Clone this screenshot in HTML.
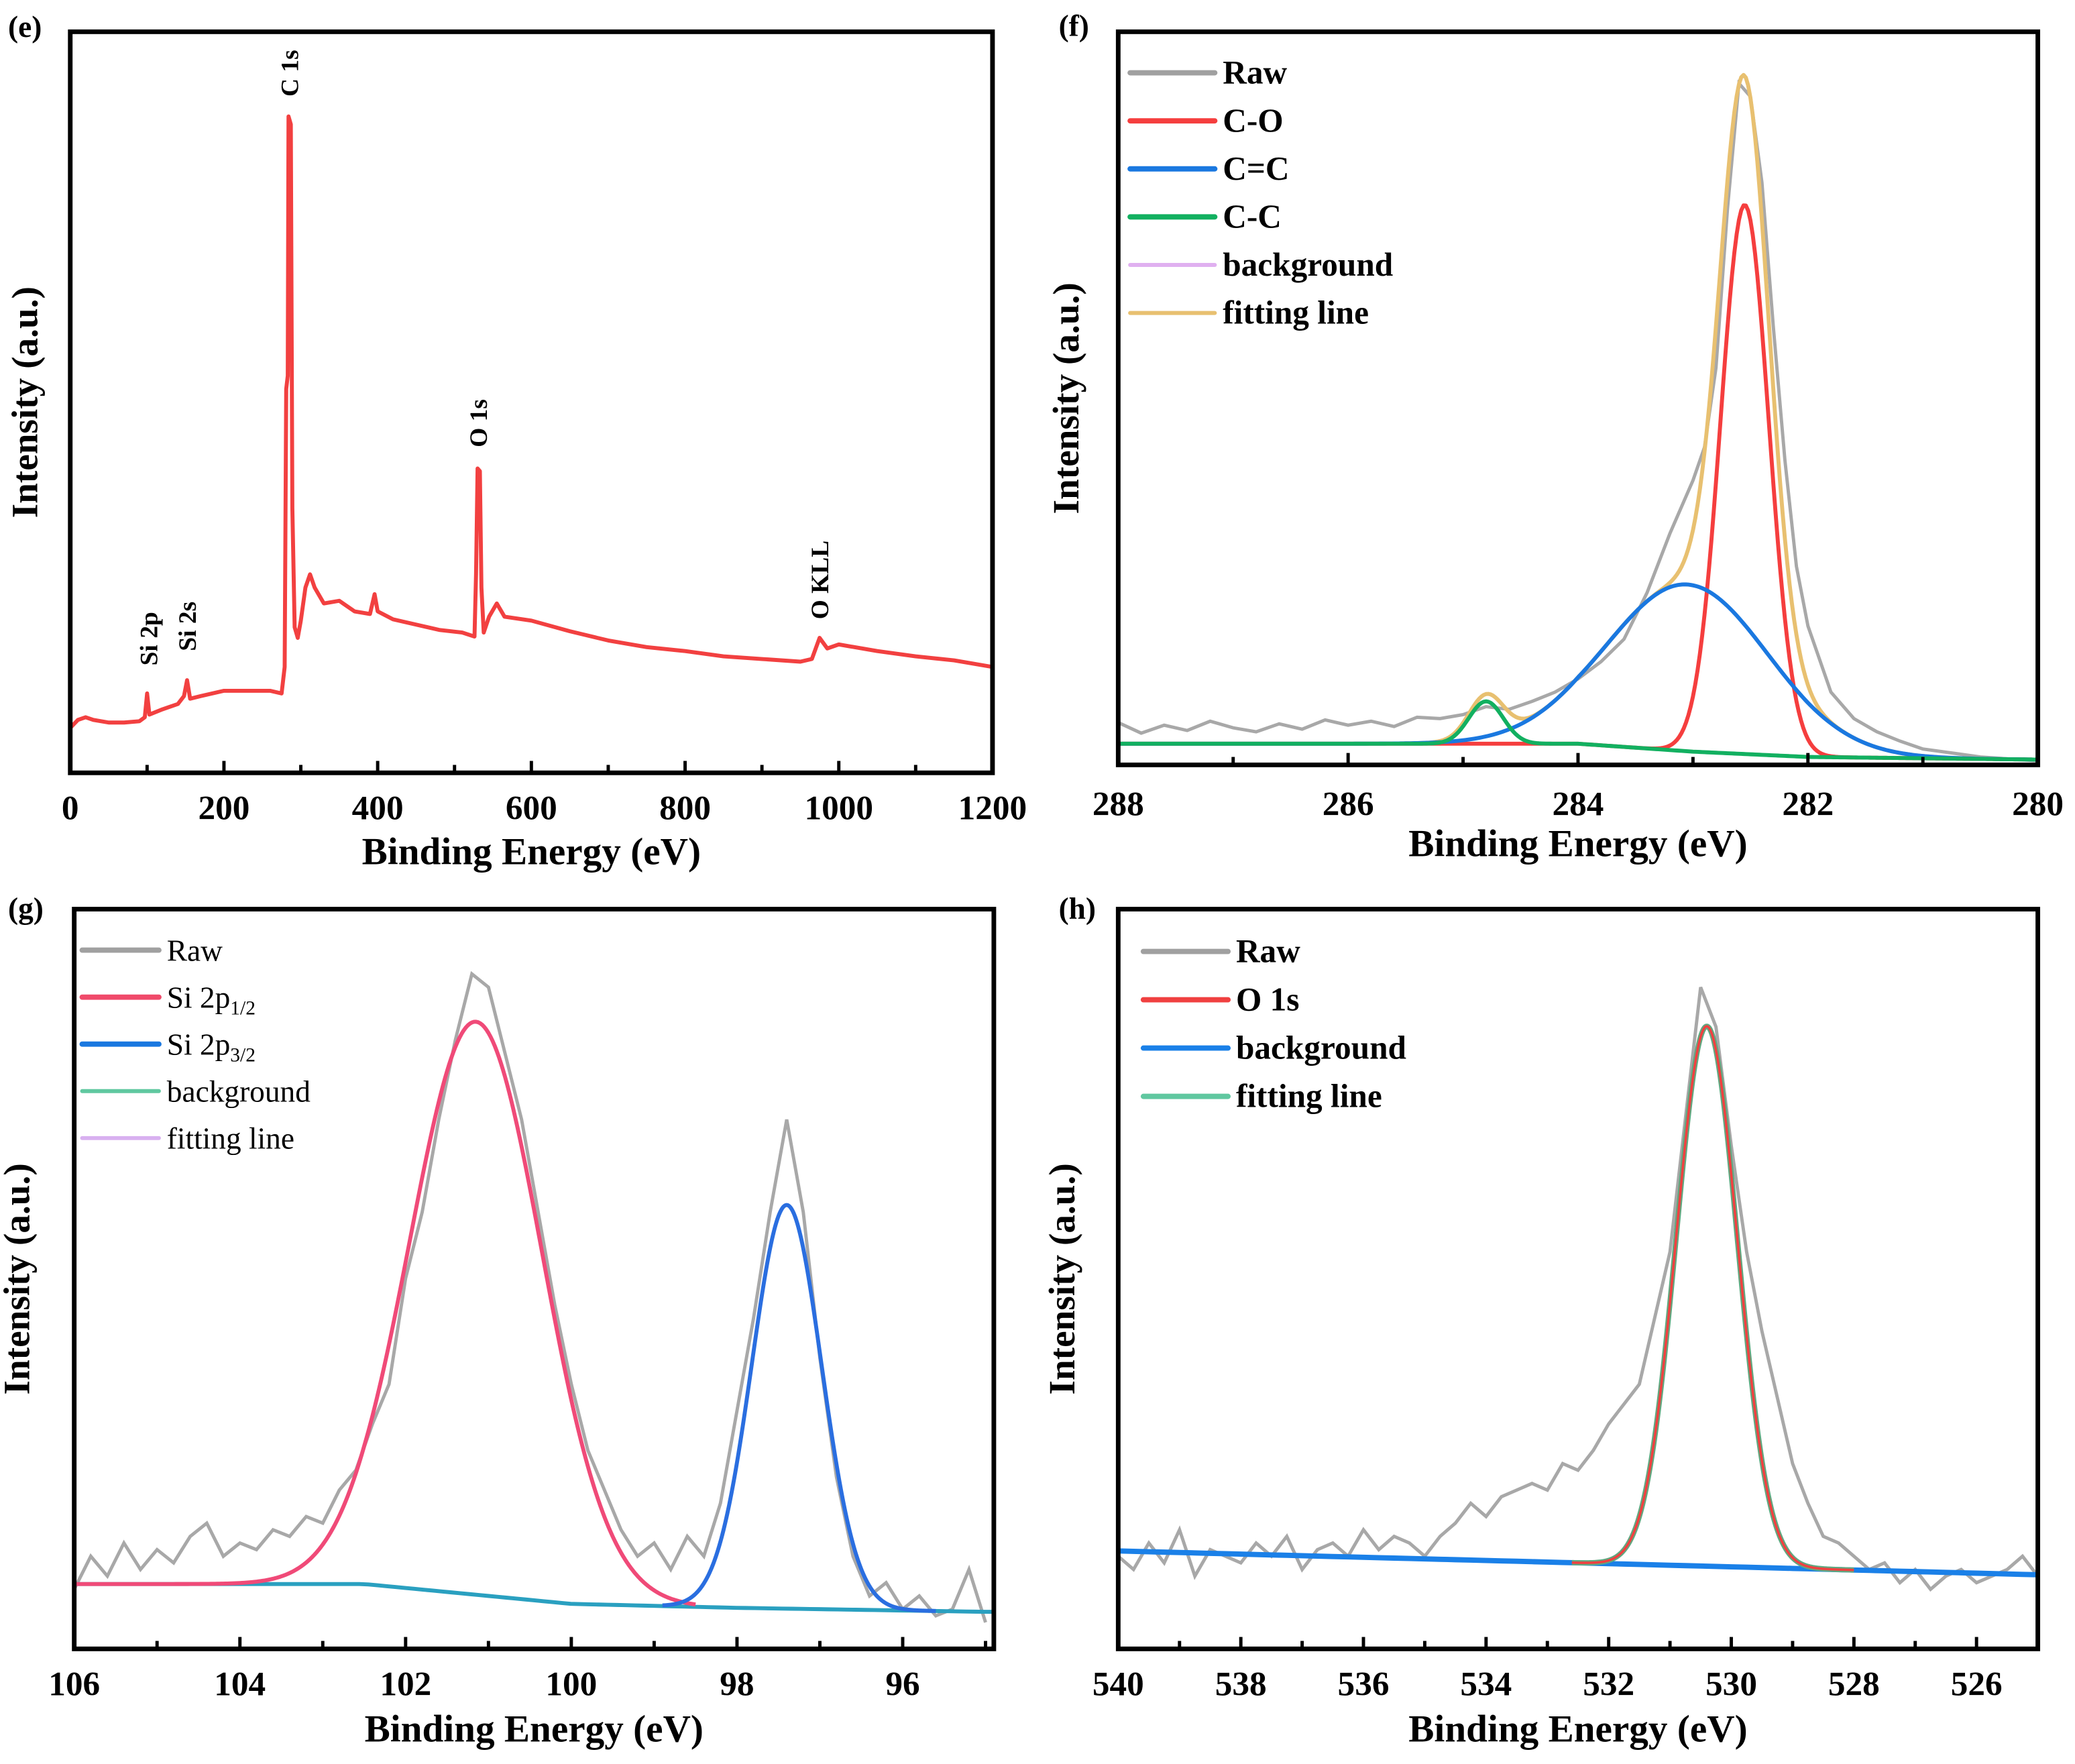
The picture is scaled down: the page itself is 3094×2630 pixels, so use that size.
<!DOCTYPE html>
<html><head><meta charset="utf-8"><style>
html,body{margin:0;padding:0;background:#fff}
svg{display:block}
text{font-family:"Liberation Serif",serif;fill:#000}
</style></head><body>
<svg id="fig" width="3094" height="2630" viewBox="0 0 1568 1333" xmlns="http://www.w3.org/2000/svg"></svg>
<script>
// ---------- Panel (e) survey ----------
const eX = [0,10,20,30,50,70,90,97,100,103,120,140,148,152,156,170,200,230,260,275,279,281,283,284,287,289,292,296,300,306,312,318,330,350,370,390,396,400,420,450,480,510,526,528,530,533,535,538,545,555,565,600,650,700,750,800,850,900,950,965,975,985,1000,1050,1100,1150,1200];
const eY = [34,40,42,40,38,38,39,42,60,44,48,52,58,70,56,58,62,62,62,60,80,290,300,496,490,200,110,102,115,140,150,140,128,130,122,120,135,122,116,112,108,106,103,150,230,228,140,106,118,128,118,115,107,100,95,92,88,86,84,86,102,94,97,92,88,85,80];
const eTicks = [0,200,400,600,800,1000,1200];
const eAnnotLabels = ["Si 2p","Si 2s","C 1s","O 1s","O KLL"];
const eAnnotX = [103,153,286,532,976];
const eAnnotY = [75,86,505,240,110];

// ---------- Panel (f) C 1s ----------
const fRawX = [288,287.8,287.6,287.4,287.2,287,286.8,286.6,286.4,286.2,286,285.8,285.6,285.4,285.2,285,284.8,284.6,284.4,284.2,284,283.8,283.6,283.4,283.2,283,282.9,282.8,282.7,282.6,282.5,282.4,282.3,282.2,282.1,282,281.8,281.6,281.4,281.2,281,280.5,280];
const fRawY = [32,24,30,26,33,28,25,31,27,34,30,33,29,36,35,38,44,42,48,55,65,78,95,130,175,215,240,300,420,515,505,440,330,230,150,105,55,35,25,18,12,6,3];
const fBgX = [288,284,283,282,280];
const fBgY = [16,16,10,6,4];
const fPeakNames = ["C-O","C=C","C-C"];
const fPeakCenter = [282.55,283.05,284.8];
const fPeakHeight = [415,126,32];
const fPeakSigma = [0.21,0.7,0.15];
const fTicks = [288,286,284,282,280];

// ---------- Panel (g) Si 2p ----------
const gRawX = [106,105.8,105.6,105.4,105.2,105,104.8,104.6,104.4,104.2,104,103.8,103.6,103.4,103.2,103,102.8,102.6,102.4,102.2,102,101.8,101.6,101.4,101.2,101,100.8,100.6,100.4,100.2,100,99.8,99.6,99.4,99.2,99,98.8,98.6,98.4,98.2,98,97.8,97.6,97.4,97.2,97,96.8,96.6,96.4,96.2,96,95.8,95.6,95.4,95.2,95];
const gRawY = [45,70,55,80,60,75,65,85,95,70,80,75,90,85,100,95,120,135,170,200,280,330,400,460,510,500,450,400,330,260,200,150,120,90,70,80,60,85,70,110,180,250,330,400,330,220,130,70,40,50,30,40,25,30,60,20];
const gBgX = [106,102.5,101,100,98,95];
const gBgY = [49,49,40,34,31,28];
const gPeakNames = ["Si 2p1/2","Si 2p3/2"];
const gPeakCenter = [101.15,97.4];
const gPeakHeight = [433,305];
const gPeakSigma = [0.8,0.42];
const gTicks = [106,104,102,100,98,96];

// ---------- Panel (h) O 1s ----------
const hRawX = [540,539.75,539.5,539.25,539,538.75,538.5,538.25,538,537.75,537.5,537.25,537,536.75,536.5,536.25,536,535.75,535.5,535.25,535,534.75,534.5,534.25,534,533.75,533.5,533.25,533,532.75,532.5,532.25,532,531.75,531.5,531.25,531,530.75,530.5,530.25,530,529.75,529.5,529.25,529,528.75,528.5,528.25,528,527.75,527.5,527.25,527,526.75,526.5,526.25,526,525.75,525.5,525.25,525];
const hRawY = [70,60,80,65,90,55,75,70,65,80,70,85,60,75,80,70,90,75,85,80,70,85,95,110,100,115,120,125,120,140,135,150,170,185,200,250,300,400,500,470,380,300,240,190,140,110,85,80,70,60,65,50,60,45,55,60,50,55,60,70,55];
const hBgX = [540,525];
const hBgY = [74,56];
const hPeakNames = ["O 1s"];
const hPeakCenter = [530.4];
const hPeakHeight = [408];
const hPeakSigma = [0.5];
const hTicks = [540,538,536,534,532,530,528,526];

const NS = "http://www.w3.org/2000/svg";
const svg = document.getElementById('fig');
function mk(tag, attrs, parent){const el=document.createElementNS(NS,tag);for(const k in attrs)el.setAttribute(k,attrs[k]);(parent||svg).appendChild(el);return el;}
function interp(xs, ys, x){
  for(let i=0;i<xs.length-1;i++){
    const a=xs[i],b=xs[i+1];
    if((x>=Math.min(a,b))&&(x<=Math.max(a,b))){const t=(x-a)/(b-a||1);return ys[i]+t*(ys[i+1]-ys[i]);}
  }
  return Math.abs(x-xs[0])<Math.abs(x-xs[xs.length-1])?ys[0]:ys[ys.length-1];
}
function makeAxes(box, x0, x1, ymax){
  const sx = v => box.l + (v - x0)/(x1 - x0)*(box.r - box.l);
  const sy = v => box.b - v/ymax*(box.b - box.t);
  return {sx, sy};
}
function pathFrom(xs, ys, ax){
  let d='';for(let i=0;i<xs.length;i++){d+=(i?'L':'M')+ax.sx(xs[i]).toFixed(2)+','+ax.sy(ys[i]).toFixed(2);}return d;
}
function frame(g, box, ticks, minorStep, ax, tickY, xTitleY, yTitleX, label, labelX, labelY){
  const r = mk('rect',{x:box.l,y:box.t,width:box.r-box.l,height:box.b-box.t,fill:'none',stroke:'#000','stroke-width':3.5},g);
  
  
  const [dmin,dmax]=[Math.min(ax.x0,ax.x1),Math.max(ax.x0,ax.x1)];
  for(let v=Math.ceil(dmin/minorStep)*minorStep; v<=dmax+1e-9; v+=minorStep){
    const x=ax.sx(v); if(x<box.l+2||x>box.r-2) continue;
    const major = ticks.some(t=>Math.abs(t-v)<1e-6);
    const tk = mk('line',{x1:x,x2:x,y1:box.b,y2:box.b-(major?9:6),stroke:'#000','stroke-width':2.5},g);
    
    
  }
  ticks.forEach(t=>{
    const tl = mk('text',{x:ax.sx(t),y:tickY,'text-anchor':'middle','font-size':26,'font-weight':'bold'},g);
    tl.textContent=t;
    
    
  });
  const xt = mk('text',{x:(box.l+box.r)/2,y:xTitleY,'text-anchor':'middle','font-size':29,'font-weight':'bold'},g);
  xt.textContent='Binding Energy (eV)';
  
  
  const cy=(box.t+box.b)/2;
  const yt = mk('text',{x:yTitleX,y:cy,'text-anchor':'middle','font-size':28,'font-weight':'bold',transform:`rotate(-90 ${yTitleX} ${cy})`},g);
  yt.textContent='Intensity (a.u.)';
  
  
  const pl = mk('text',{x:labelX,y:labelY,'font-size':23,'font-weight':'bold'},g);
  pl.textContent=label;
  
  
}
function legend(g, items, x, y0, dy, bold, fs, lineLen){
  items.forEach((it,i)=>{
    const y=y0+i*dy;
    const ln = mk('line',{x1:x,x2:x+lineLen,y1:y,y2:y,stroke:it.c,'stroke-width':it.w||4,'stroke-linecap':'round'},g);
    
    
    const t = mk('text',{x:x+lineLen+6,y:y+8,'font-size':fs,'font-weight':bold?'bold':'normal'},g);
    if(it.sub){t.textContent=it.t; const ts=mk('tspan',{'font-size':fs*0.65,dy:5},t); ts.textContent=it.sub;}
    else t.textContent=it.t;
    
    
  });
}
function gauss(x, c, h, s){return h*Math.exp(-(x-c)*(x-c)/(2*s*s));}
function curve(g, x0, x1, n, fn, ax, color, w, name){
  let d='';for(let i=0;i<=n;i++){const x=x0+(x1-x0)*i/n;d+=(i?'L':'M')+ax.sx(x).toFixed(2)+','+ax.sy(fn(x)).toFixed(2);}
  const p = mk('path',{d,fill:'none',stroke:color,'stroke-width':w,'stroke-linejoin':'round'},g);
  
  
  return p;
}

// ===== Panel e =====
{
  const g = mk('g',{});  
  const box={l:53,r:750,t:24,b:584};
  const ax = makeAxes(box,0,1200,560); ax.x0=0; ax.x1=1200;
  const p = mk('path',{d:pathFrom(eX,eY,ax),fill:'none',stroke:'#f24040','stroke-width':3,'stroke-linejoin':'round'},g);
  
  
  eAnnotLabels.forEach((s,i)=>{
    const x=ax.sx(eAnnotX[i])+6, y=ax.sy(eAnnotY[i])-6;
    const t=mk('text',{x,y,'font-size':19,'font-weight':'bold',transform:`rotate(-90 ${x} ${y})`},g);
    t.textContent=s;
    
    
  });
  frame(g,box,eTicks,100,ax,619,653,28,'(e)',6,28);
}
// ===== Panel f =====
{
  const g = mk('g',{});  
  const box={l:845,r:1540,t:24,b:578};
  const ax = makeAxes(box,288,280,554); ax.x0=288; ax.x1=280;
  const bg = x=>interp(fBgX,fBgY,x);
  const raw = mk('path',{d:pathFrom(fRawX,fRawY,ax),fill:'none',stroke:'#a8a8a8','stroke-width':2.5},g);
  
  
  const cols=['#f53e3e','#1a78e0','#12b060'];
  curve(g,288,280,400,x=>bg(x)+fPeakCenter.reduce((s,c,i)=>s+gauss(x,c,fPeakHeight[i],fPeakSigma[i]),0),ax,'#e8c070',3,'fitting-line');
  curve(g,288,280,100,bg,ax,'#80c8b0',2.5,'background-line');
  fPeakCenter.forEach((c,i)=>curve(g,288,280,400,x=>bg(x)+gauss(x,c,fPeakHeight[i],fPeakSigma[i]),ax,cols[i],3,'peak-'+fPeakNames[i]));
  legend(g,[{t:'Raw',c:'#a0a0a0'},{t:'C-O',c:'#f53e3e'},{t:'C=C',c:'#1a78e0'},{t:'C-C',c:'#12b060'},{t:'background',c:'#e0b0f0',w:3},{t:'fitting line',c:'#e8c070',w:3}],854,55,36.3,true,25,64);
  frame(g,box,fTicks,1,ax,616,647,815,'(f)',800,27);
}
// ===== Panel g =====
{
  const g = mk('g',{});  
  const box={l:56,r:751,t:687,b:1246};
  const ax = makeAxes(box,106,94.9,559); ax.x0=106; ax.x1=94.9;
  const bg = x=>interp(gBgX,gBgY,x);
  const raw = mk('path',{d:pathFrom(gRawX,gRawY,ax),fill:'none',stroke:'#a8a8a8','stroke-width':2.5},g);
  
  
  curve(g,106,94.9,100,bg,ax,'#2aa0c0',3,'background-line');
  curve(g,106,98.5,300,x=>bg(x)+gauss(x,gPeakCenter[0],gPeakHeight[0],gPeakSigma[0]),ax,'#f04a78',3,'peak-si2p12');
  curve(g,98.9,95.6,300,x=>bg(x)+gauss(x,gPeakCenter[1],gPeakHeight[1],gPeakSigma[1]),ax,'#2a6ee0',3,'peak-si2p32');
  legend(g,[{t:'Raw',c:'#a0a0a0'},{t:'Si 2p',sub:'1/2',c:'#f04a6a'},{t:'Si 2p',sub:'3/2',c:'#1a78e0'},{t:'background',c:'#60c8a0',w:3},{t:'fitting line',c:'#d8b0f0',w:3}],62,718,35.5,false,23,58);
  frame(g,box,gTicks,1,ax,1281,1316,22,'(g)',6,694);
}
// ===== Panel h =====
{
  const g = mk('g',{});  
  const box={l:845,r:1540,t:687,b:1246};
  const ax = makeAxes(box,540,525,559); ax.x0=540; ax.x1=525;
  const bg = x=>interp(hBgX,hBgY,x);
  const raw = mk('path',{d:pathFrom(hRawX,hRawY,ax),fill:'none',stroke:'#a8a8a8','stroke-width':2.5},g);
  
  
  curve(g,540,525,60,bg,ax,'#1a80e8',4,'background-line');
  curve(g,532.6,528,300,x=>bg(x)+gauss(x,hPeakCenter[0],hPeakHeight[0],hPeakSigma[0]),ax,'#60a880',4,'fitting-line');
  curve(g,532.6,528,300,x=>bg(x)+gauss(x,hPeakCenter[0],hPeakHeight[0],hPeakSigma[0]),ax,'#f04040',1.8,'peak-o1s');
  legend(g,[{t:'Raw',c:'#a0a0a0'},{t:'O 1s',c:'#f04040'},{t:'background',c:'#1a80e8'},{t:'fitting line',c:'#60c8a0'}],864,719,36.5,true,25,64);
  frame(g,box,hTicks,1,ax,1281,1316,812,'(h)',800,694);
}
</script>
</body></html>
